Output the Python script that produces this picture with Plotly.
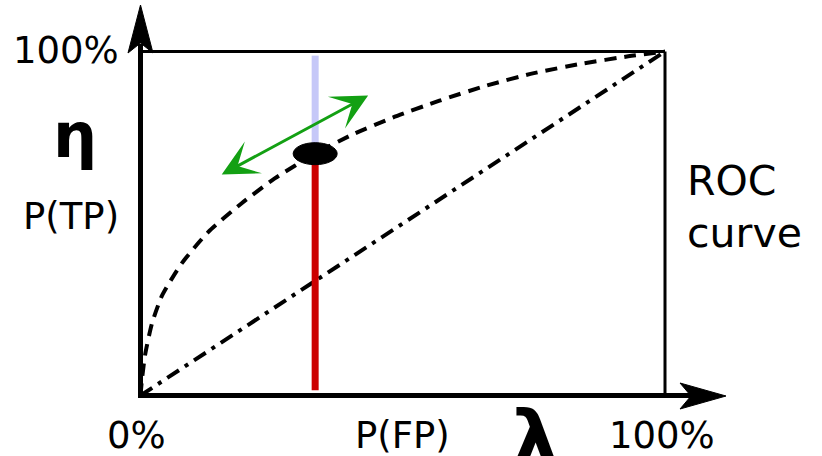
import plotly.graph_objects as go

# Canvas and the pixel frame of the unit square (0..1 on both axes)
W, H = 822, 456
PX_LEFT, PX_RIGHT = 140.5, 665.0
PX_BOTTOM, PX_TOP = 395.5, 51.5
SX = (PX_RIGHT - PX_LEFT)
SY = (PX_BOTTOM - PX_TOP)


def dx(px):
    return (px - PX_LEFT) / SX


def dy(py):
    return (PX_BOTTOM - py) / SY


# ROC curve (false-positive rate vs true-positive rate)
roc_fpr = [0.0, 0.003, 0.009, 0.022, 0.041, 0.079, 0.129, 0.193, 0.256, 0.333,
           0.406, 0.481, 0.570, 0.660, 0.750, 0.843, 0.930, 1.0]
roc_tpr = [0.0, 0.050, 0.120, 0.210, 0.290, 0.385, 0.475, 0.559, 0.631, 0.703,
           0.760, 0.808, 0.857, 0.901, 0.937, 0.965, 0.986, 1.0]

# Chance diagonal
chance_fpr = [0.0, 1.0]
chance_tpr = [0.0, 1.0]

# Operating point on the curve
op_fpr = 0.333
op_tpr = 0.703
bar_bottom = 0.015
bar_top = 0.988

# Tangent direction (slope arrow) end points
slope_fpr = [0.152, 0.434]
slope_tpr = [0.640, 0.872]

tick_labels = ["0%", "100%"]

fig = go.Figure()

# Diagonal
fig.add_trace(go.Scatter(
    x=chance_fpr, y=chance_tpr, mode="lines",
    line=dict(color="black", width=4, dash="14px,7px,4px,7px"),
    hoverinfo="skip"))

# ROC curve
fig.add_trace(go.Scatter(
    x=roc_fpr, y=roc_tpr, mode="lines",
    line=dict(color="black", width=4, dash="12px,8px", shape="spline", smoothing=0.6),
    hoverinfo="skip"))

# Operating point marker (ellipse)
rx, ry = 22 / SX, 11 / SY
fig.add_shape(type="circle", xref="x", yref="y",
              x0=op_fpr - rx, x1=op_fpr + rx, y0=op_tpr - ry, y1=op_tpr + ry,
              fillcolor="black", line=dict(color="black", width=1), layer="above")

# Vertical bar split at the operating point
fig.add_trace(go.Scatter(
    x=[op_fpr, op_fpr], y=[op_tpr, bar_top], mode="lines",
    line=dict(color="#c6c8f8", width=7), hoverinfo="skip"))
fig.add_trace(go.Scatter(
    x=[op_fpr, op_fpr], y=[bar_bottom, op_tpr], mode="lines",
    line=dict(color="#cc0000", width=7), hoverinfo="skip"))

# Frame of the unit square (thin top/right)
fig.add_shape(type="line", xref="x", yref="y", x0=0, x1=1, y0=1, y1=1,
              line=dict(color="black", width=3))
fig.add_shape(type="line", xref="x", yref="y", x0=1, x1=1, y0=0, y1=1,
              line=dict(color="black", width=3))

# Axes with arrowheads (thick left/bottom)
fig.add_shape(type="line", xref="x", yref="y", x0=0, x1=0,
              y0=dy(398), y1=dy(44), line=dict(color="black", width=5))
fig.add_shape(type="line", xref="x", yref="y", x0=dx(138), x1=dx(692),
              y0=0, y1=0, line=dict(color="black", width=5))


def path(points):
    return "M " + " L ".join(f"{dx(a)},{dy(b)}" for a, b in points) + " Z"


fig.add_shape(type="path", xref="x", yref="y",
              path=path([(140.5, 5), (128, 53), (140.5, 43), (153, 53)]),
              fillcolor="black", line=dict(color="black", width=1))
fig.add_shape(type="path", xref="x", yref="y",
              path=path([(726, 396), (680, 383), (691, 396), (680, 409)]),
              fillcolor="black", line=dict(color="black", width=1))

# Double-headed slope arrow
fig.add_annotation(x=slope_fpr[1], y=slope_tpr[1], ax=slope_fpr[0], ay=slope_tpr[0],
                   xref="x", yref="y", axref="x", ayref="y", text="",
                   showarrow=True, arrowhead=3, startarrowhead=3, arrowside="end+start",
                   arrowsize=2.0, startarrowsize=2.0, arrowwidth=3, arrowcolor="#13a013")

FONT = "DejaVu Sans"


def label(text, px, py, size, bold=False, xanchor="center"):
    t = f"<b>{text}</b>" if bold else text
    fig.add_annotation(x=dx(px), y=dy(py), xref="x", yref="y", text=t,
                       showarrow=False, xanchor=xanchor, yanchor="middle",
                       font=dict(family=FONT, size=size, color="black"))


label(tick_labels[1], 66, 50, 37)
label(tick_labels[0], 136, 435, 37)
label(tick_labels[1], 662, 435, 37)
label("P(TP)", 71, 216, 37)
label("P(FP)", 402, 435, 37)
label("η", 75, 135, 62, bold=True)
label("λ", 535, 438, 74, bold=True)
label("ROC", 685, 181, 41, xanchor="left")
label("curve", 685, 233, 41, xanchor="left")

fig.update_layout(
    width=W, height=H, margin=dict(l=0, r=0, t=0, b=0),
    paper_bgcolor="white", plot_bgcolor="white", showlegend=False,
    xaxis=dict(range=[dx(0), dx(W)], visible=False, fixedrange=True),
    yaxis=dict(range=[dy(H), dy(0)], visible=False, fixedrange=True),
)

fig.write_html("out.html")
